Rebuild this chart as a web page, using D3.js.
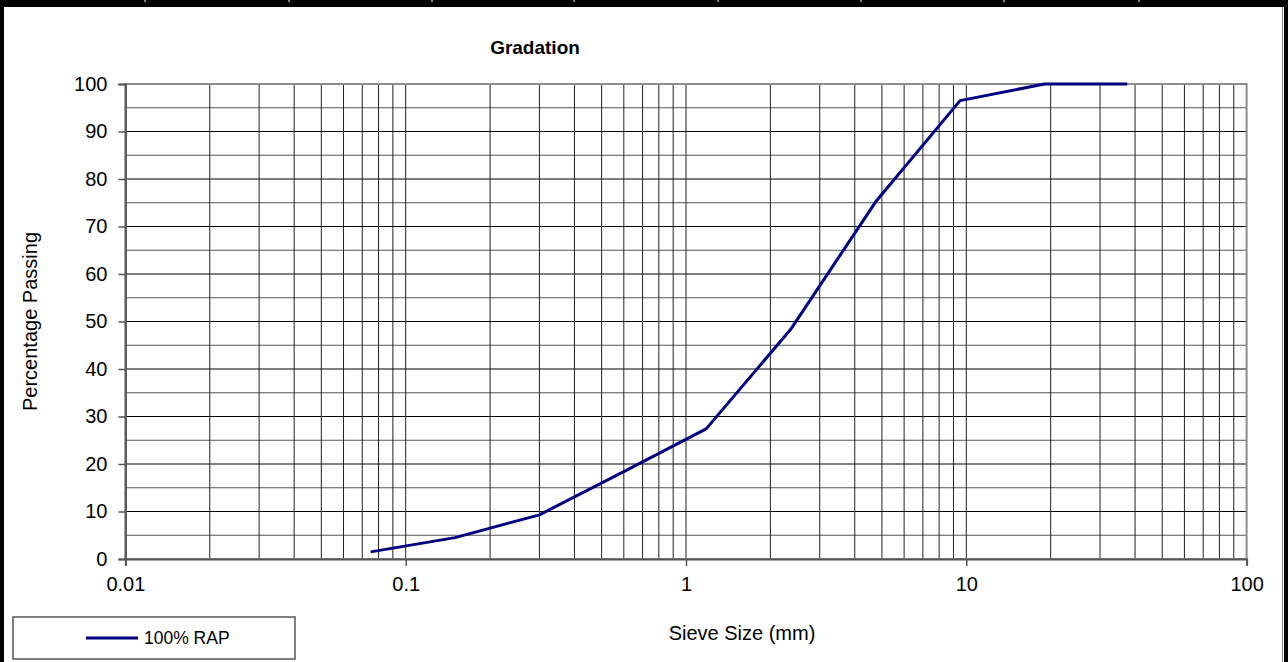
<!DOCTYPE html>
<html>
<head>
<meta charset="utf-8">
<script src="https://cdn.jsdelivr.net/npm/d3@7"></script>
<style>
  html, body { margin: 0; padding: 0; background: #fff; }
  svg { display: block; font-family: "Liberation Sans", Arial, sans-serif; }
</style>
</head>
<body>
<svg id="chart" width="1288" height="662" viewBox="0 0 1288 662"></svg>
<script>
// sieve sizes (mm) and percentage passing for the 100% RAP blend
const sieveSizes = [0.075, 0.15, 0.3, 0.6, 1.18, 2.36, 4.75, 9.5, 19, 37.5];
const passing = [1.5, 4.5, 9.3, 18.4, 27.4, 48.3, 75.2, 96.5, 100, 100];
const seriesName = "100% RAP";

const xTickValues = [0.01, 0.1, 1, 10, 100];
const xTickLabels = ["0.01", "0.1", "1", "10", "100"];
const yTickValues = [0, 10, 20, 30, 40, 50, 60, 70, 80, 90, 100];

// little white notches in the black header strip (spreadsheet column edges)
const headerNotches = [145, 289, 432, 574, 718, 861, 1004, 1139];

const svgEl = d3.select("#chart");
const W = 1288, H = 662;
const plot = { left: 125.4, right: 1246.6, top: 84, bottom: 559 };

const x = d3.scaleLog().domain([0.01, 100]).range([plot.left, plot.right]);
const y = d3.scaleLinear().domain([0, 100]).range([plot.bottom, plot.top]);

svgEl.append("rect").attr("x", 0).attr("y", 0).attr("width", W).attr("height", H).attr("fill", "#fff");

// gridlines
const gridG = svgEl.append("g").attr("class", "grid");
const hLines = d3.range(5, 100, 5);
gridG.selectAll("line.h").data(hLines).enter().append("line")
  .attr("class", "h")
  .attr("x1", plot.left).attr("x2", plot.right)
  .attr("y1", d => y(d)).attr("y2", d => y(d))
  .attr("stroke", d => d % 10 === 0 ? "#000" : "#555")
  .attr("stroke-width", 1);

const vLines = [];
for (let e = -2; e < 2; e++) {
  for (let m = 1; m <= 9; m++) {
    const v = m * Math.pow(10, e);
    if (v > 0.01) vLines.push(v);
  }
}
gridG.selectAll("line.v").data(vLines).enter().append("line")
  .attr("class", "v")
  .attr("x1", d => x(d)).attr("x2", d => x(d))
  .attr("y1", plot.top).attr("y2", plot.bottom)
  .attr("stroke", "#222")
  .attr("stroke-width", 1);

// plot border
svgEl.append("rect")
  .attr("x", plot.left).attr("y", plot.top)
  .attr("width", plot.right - plot.left).attr("height", plot.bottom - plot.top)
  .attr("fill", "none").attr("stroke", "#8c8c8c").attr("stroke-width", 2);

// y axis
const yAxis = d3.axisLeft(y).tickValues(yTickValues).tickSize(7).tickPadding(11).tickFormat(d3.format("d"));
const yAxisG = svgEl.append("g").attr("transform", `translate(${plot.left},0)`).call(yAxis);
yAxisG.select(".domain").attr("stroke", "#555").attr("stroke-width", 2);
yAxisG.selectAll(".tick line").attr("stroke", "#555").attr("stroke-width", 1.5);
yAxisG.selectAll(".tick text").attr("font-size", 20).attr("fill", "#000")
  .attr("font-family", "Liberation Sans, Arial, sans-serif");

// x axis
const xAxis = d3.axisBottom(x).tickValues(xTickValues).tickSize(7).tickPadding(11)
  .tickFormat((d, i) => xTickLabels[i]);
const xAxisG = svgEl.append("g").attr("transform", `translate(0,${plot.bottom})`).call(xAxis);
xAxisG.select(".domain").attr("stroke", "#555").attr("stroke-width", 2);
xAxisG.selectAll(".tick line").attr("stroke", "#555").attr("stroke-width", 1.5);
xAxisG.selectAll(".tick text").attr("font-size", 20).attr("fill", "#000")
  .attr("font-family", "Liberation Sans, Arial, sans-serif");

// data line
const pts = sieveSizes.map((s, i) => ({ s: s, p: passing[i] }));
const line = d3.line().x(d => x(d.s)).y(d => y(d.p));
svgEl.append("path").datum(pts)
  .attr("d", line)
  .attr("fill", "none").attr("stroke", "#000080").attr("stroke-width", 3)
  .attr("stroke-linejoin", "round");

// titles
svgEl.append("text").attr("x", 535).attr("y", 54)
  .attr("text-anchor", "middle").attr("font-size", 19).attr("font-weight", "bold")
  .text("Gradation");
svgEl.append("text").attr("x", 742).attr("y", 640)
  .attr("text-anchor", "middle").attr("font-size", 20)
  .text("Sieve Size (mm)");
svgEl.append("text")
  .attr("transform", `translate(37,${(plot.top + plot.bottom) / 2}) rotate(-90)`)
  .attr("text-anchor", "middle").attr("font-size", 20)
  .text("Percentage Passing");

// legend
const legG = svgEl.append("g").attr("transform", "translate(13,617)");
legG.append("rect").attr("x", 0).attr("y", 0).attr("width", 282).attr("height", 42)
  .attr("fill", "#fff").attr("stroke", "#555").attr("stroke-width", 1.5);
legG.append("line").attr("x1", 73).attr("x2", 125).attr("y1", 21).attr("y2", 21)
  .attr("stroke", "#000080").attr("stroke-width", 3);
legG.append("text").attr("x", 131).attr("y", 27).attr("font-size", 17.5).text(seriesName);

// outer frame: black header strip and side borders
svgEl.append("rect").attr("x", 0).attr("y", 0).attr("width", W).attr("height", 7).attr("fill", "#000");
svgEl.selectAll("line.notch").data(headerNotches).enter().append("line")
  .attr("class", "notch")
  .attr("x1", d => d).attr("x2", d => d).attr("y1", 0).attr("y2", 2)
  .attr("stroke", "#fff").attr("stroke-width", 1);
svgEl.append("rect").attr("x", 0).attr("y", 0).attr("width", 4).attr("height", H).attr("fill", "#000");
svgEl.append("rect").attr("x", 1284).attr("y", 0).attr("width", 4).attr("height", H).attr("fill", "#000");
svgEl.append("line").attr("x1", 1282.5).attr("x2", 1282.5).attr("y1", 7).attr("y2", H)
  .attr("stroke", "#888").attr("stroke-width", 1);
</script>
</body>
</html>
